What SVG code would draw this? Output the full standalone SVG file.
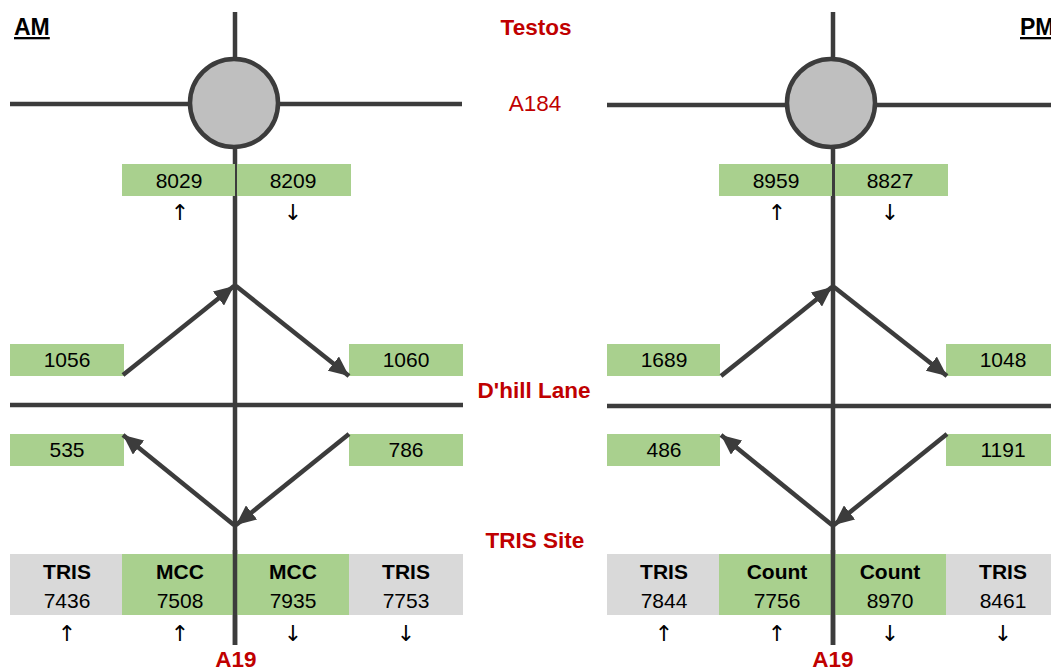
<svg xmlns="http://www.w3.org/2000/svg" width="1051" height="670" viewBox="0 0 1051 670">
  <style>
    .road { stroke: #3c3c3c; stroke-width: 4.5; fill: none; }
    .flow { stroke: #3c3c3c; stroke-width: 4.5; fill: none; marker-end: url(#head); }
    .green { fill: #a9d08e; }
    .grey { fill: #d9d9d9; }
    .num { font-family: "Liberation Sans", Arial, sans-serif; font-size: 21px; fill: #000; text-anchor: middle; }
    .hdr { font-family: "Liberation Sans", Arial, sans-serif; font-size: 21px; font-weight: bold; fill: #000; text-anchor: middle; }
    .dir { font-family: "DejaVu Sans", sans-serif; font-size: 22px; fill: #000; text-anchor: middle; }
    .place { font-family: "Liberation Sans", Arial, sans-serif; font-size: 22.5px; fill: #c00000; text-anchor: middle; }
    .bold { font-weight: bold; }
    .period { font-family: "Liberation Sans", Arial, sans-serif; font-size: 23px; font-weight: bold; fill: #000; text-decoration: underline; }
  </style>
  <defs>
    <marker id="head" markerUnits="userSpaceOnUse" markerWidth="22" markerHeight="18" refX="20" refY="9" orient="auto">
      <path d="M0,0 L20,9 L0,18 Z" fill="#3c3c3c"/>
    </marker>
  </defs>
  <rect width="1051" height="670" fill="#ffffff"/>

  <!-- road labels -->
  <g id="labels">
    <text class="place bold" x="536" y="35">Testos</text>
    <text class="place" x="535" y="111">A184</text>
    <text class="place bold" x="534" y="398">D'hill Lane</text>
    <text class="place bold" x="535" y="548">TRIS Site</text>
    <text class="place bold" x="236" y="667">A19</text>
    <text class="place bold" x="833" y="667">A19</text>
    <text class="period" x="14" y="35">AM</text>
    <text class="period" x="1020" y="35">PM</text>
  </g>

  <!-- morning peak -->
  <g id="am">
    <g id="am-roads">
      <line class="road" x1="235" y1="12" x2="235" y2="645"/>
      <line class="road" x1="10" y1="104" x2="462" y2="104"/>
      <line class="road" x1="10" y1="405" x2="463" y2="405"/>
    </g>
    <g id="am-roundabout">
      <circle cx="234" cy="103" r="44" fill="#bfbfbf" stroke="#3c3c3c" stroke-width="4.5"/>
    </g>
    <g id="am-a184-north">
      <rect class="green" x="122" y="164" width="113" height="32"/>
      <text class="num" x="179" y="188">8029</text>
      <text class="dir" x="180" y="220">↑</text>
    </g>
    <g id="am-a184-south">
      <rect class="green" x="237" y="164" width="114" height="32"/>
      <text class="num" x="293" y="188">8209</text>
      <text class="dir" x="293" y="220">↓</text>
    </g>
    <g id="am-dhill-nw">
      <rect class="green" x="10" y="344" width="114" height="32"/>
      <text class="num" x="67" y="367">1056</text>
    </g>
    <g id="am-dhill-ne">
      <rect class="green" x="349" y="344" width="114" height="32"/>
      <text class="num" x="406" y="367">1060</text>
    </g>
    <g id="am-dhill-sw">
      <rect class="green" x="10" y="434" width="114" height="32"/>
      <text class="num" x="67" y="457">535</text>
    </g>
    <g id="am-dhill-se">
      <rect class="green" x="349" y="434" width="114" height="32"/>
      <text class="num" x="406" y="457">786</text>
    </g>
    <g id="am-tris-north">
      <rect class="grey" x="10" y="554" width="112" height="61"/>
      <text class="hdr" x="67" y="579">TRIS</text>
      <text class="num" x="67" y="608">7436</text>
      <text class="dir" x="67" y="641">↑</text>
    </g>
    <g id="am-mcc-north">
      <rect class="green" x="122" y="554" width="113" height="61"/>
      <text class="hdr" x="180" y="579">MCC</text>
      <text class="num" x="180" y="608">7508</text>
      <text class="dir" x="180" y="641">↑</text>
    </g>
    <g id="am-mcc-south">
      <rect class="green" x="237" y="554" width="112" height="61"/>
      <text class="hdr" x="293" y="579">MCC</text>
      <text class="num" x="293" y="608">7935</text>
      <text class="dir" x="293" y="641">↓</text>
    </g>
    <g id="am-tris-south">
      <rect class="grey" x="349" y="554" width="114" height="61"/>
      <text class="hdr" x="406" y="579">TRIS</text>
      <text class="num" x="406" y="608">7753</text>
      <text class="dir" x="406" y="641">↓</text>
    </g>
    <line class="road" x1="235" y1="550" x2="235" y2="645"/>
    <g id="am-connectors">
      <line class="flow" x1="123" y1="375" x2="234" y2="286"/>
      <line class="flow" x1="236" y1="286" x2="349" y2="376"/>
      <line class="flow" x1="349" y1="434" x2="236" y2="525"/>
      <line class="flow" x1="234" y1="525" x2="123" y2="435"/>
    </g>
  </g>

  <!-- evening peak -->
  <g id="pm" transform="translate(597,0)">
    <g id="pm-roads">
      <line class="road" x1="236" y1="12" x2="236" y2="645"/>
      <line class="road" x1="10" y1="105" x2="470" y2="105"/>
      <line class="road" x1="10" y1="406" x2="470" y2="406"/>
    </g>
    <g id="pm-roundabout">
      <circle cx="234" cy="103" r="44" fill="#bfbfbf" stroke="#3c3c3c" stroke-width="4.5"/>
    </g>
    <g id="pm-a184-north">
      <rect class="green" x="122" y="164" width="113" height="32"/>
      <text class="num" x="179" y="188">8959</text>
      <text class="dir" x="180" y="220">↑</text>
    </g>
    <g id="pm-a184-south">
      <rect class="green" x="238" y="164" width="113" height="32"/>
      <text class="num" x="293" y="188">8827</text>
      <text class="dir" x="293" y="220">↓</text>
    </g>
    <g id="pm-dhill-nw">
      <rect class="green" x="10" y="344" width="113" height="32"/>
      <text class="num" x="67" y="367">1689</text>
    </g>
    <g id="pm-dhill-ne">
      <rect class="green" x="349" y="344" width="114" height="32"/>
      <text class="num" x="406" y="367">1048</text>
    </g>
    <g id="pm-dhill-sw">
      <rect class="green" x="10" y="434" width="113" height="32"/>
      <text class="num" x="67" y="457">486</text>
    </g>
    <g id="pm-dhill-se">
      <rect class="green" x="349" y="434" width="114" height="32"/>
      <text class="num" x="406" y="457">1191</text>
    </g>
    <g id="pm-tris-north">
      <rect class="grey" x="10" y="554" width="112" height="61"/>
      <text class="hdr" x="67" y="579">TRIS</text>
      <text class="num" x="67" y="608">7844</text>
      <text class="dir" x="67" y="641">↑</text>
    </g>
    <g id="pm-count-north">
      <rect class="green" x="122" y="554" width="113" height="61"/>
      <text class="hdr" x="180" y="579">Count</text>
      <text class="num" x="180" y="608">7756</text>
      <text class="dir" x="180" y="641">↑</text>
    </g>
    <g id="pm-count-south">
      <rect class="green" x="238" y="554" width="111" height="61"/>
      <text class="hdr" x="293" y="579">Count</text>
      <text class="num" x="293" y="608">8970</text>
      <text class="dir" x="293" y="641">↓</text>
    </g>
    <g id="pm-tris-south">
      <rect class="grey" x="349" y="554" width="114" height="61"/>
      <text class="hdr" x="406" y="579">TRIS</text>
      <text class="num" x="406" y="608">8461</text>
      <text class="dir" x="406" y="641">↓</text>
    </g>
    <line class="road" x1="236" y1="550" x2="236" y2="645"/>
    <g id="pm-connectors">
      <line class="flow" x1="124" y1="376" x2="235" y2="287"/>
      <line class="flow" x1="237" y1="287" x2="350" y2="376"/>
      <line class="flow" x1="350" y1="434" x2="237" y2="525"/>
      <line class="flow" x1="235" y1="525" x2="124" y2="435"/>
    </g>
  </g>
</svg>
